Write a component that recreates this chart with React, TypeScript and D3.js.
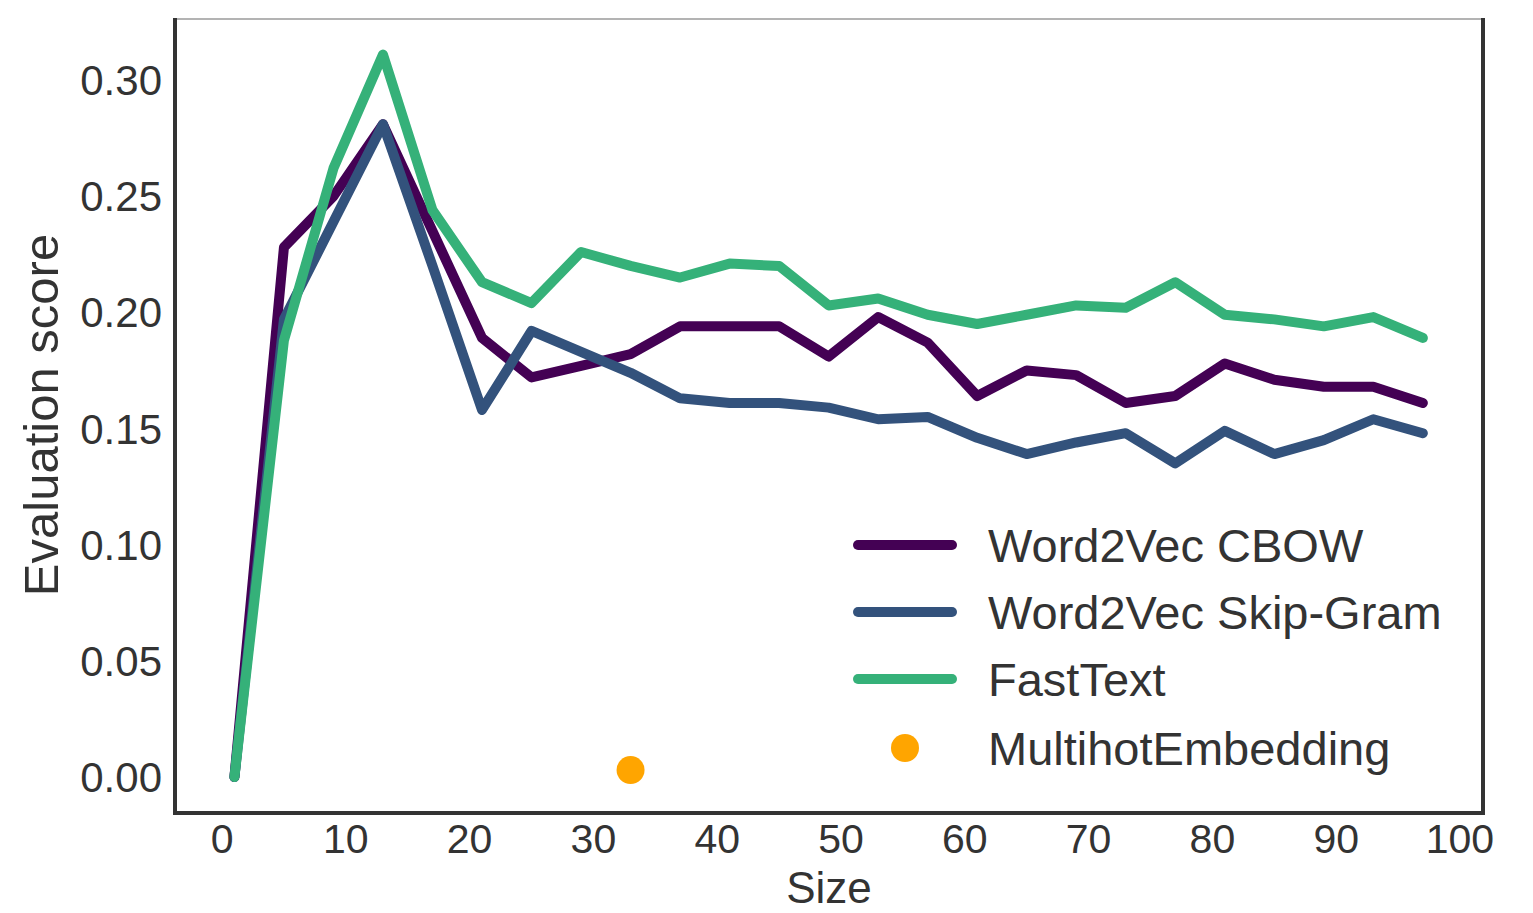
import React from "react";
import * as d3 from "d3";

const sizes = [1, 5, 9, 13, 17, 21, 25, 29, 33, 37, 41, 45, 49, 53, 57, 61, 65, 69, 73, 77, 81, 85, 89, 93, 97];
const cbow = [0.0, 0.228, 0.25, 0.281, 0.235, 0.189, 0.172, 0.177, 0.182, 0.194, 0.194, 0.194, 0.181, 0.198, 0.187, 0.164, 0.175, 0.173, 0.161, 0.164, 0.178, 0.171, 0.168, 0.168, 0.161];
const skipGram = [0.0, 0.197, 0.239, 0.281, 0.22, 0.158, 0.192, 0.183, 0.174, 0.163, 0.161, 0.161, 0.159, 0.154, 0.155, 0.146, 0.139, 0.144, 0.148, 0.135, 0.149, 0.139, 0.145, 0.154, 0.148];
const fastText = [0.0, 0.188, 0.262, 0.311, 0.244, 0.213, 0.204, 0.226, 0.22, 0.215, 0.221, 0.22, 0.203, 0.206, 0.199, 0.195, 0.199, 0.203, 0.202, 0.213, 0.199, 0.197, 0.194, 0.198, 0.189];
const multihotSize = [33];
const multihotScore = [0.003];

const seriesNames = ["Word2Vec CBOW", "Word2Vec Skip-Gram", "FastText"];
const seriesColors = ["#440154", "#33527c", "#35b179"];
const multihotName = "MultihotEmbedding";
const multihotColor = "#ffa500";

const xTicks = [0, 10, 20, 30, 40, 50, 60, 70, 80, 90, 100];
const yTicks = [0.0, 0.05, 0.1, 0.15, 0.2, 0.25, 0.3];

const FONT = "'Liberation Sans', Arial, Helvetica, sans-serif";

export default function App() {
  const left = 175, right = 1483, top = 19, bottom = 813;
  const x = d3.scaleLinear().domain([-3.8, 101.86]).range([left, right]);
  const y = d3.scaleLinear().domain([-0.0155, 0.3263]).range([bottom, top]);
  const line = d3
    .line<number>()
    .x((_, i) => x(sizes[i]))
    .y((d) => y(d));
  const series = [cbow, skipGram, fastText];

  const legX0 = 858, legX1 = 952, legText = 988;
  const legY = [545, 612, 679, 748];

  return (
    <svg width={1533} height={913} style={{ position: "absolute", left: 0, top: 0, background: "#fff" }} fontFamily={FONT}>
      <rect x={0} y={0} width={1533} height={913} fill="#fff" />
      {series.map((s, k) => (
        <path key={k} d={line(s) || ""} fill="none" stroke={seriesColors[k]} strokeWidth={10} strokeLinecap="round" strokeLinejoin="round" />
      ))}
      {multihotSize.map((s, i) => (
        <circle key={i} cx={x(s)} cy={y(multihotScore[i])} r={14} fill={multihotColor} />
      ))}
      {/* frame */}
      <line x1={left} y1={top} x2={right} y2={top} stroke="#9a9a9a" strokeWidth={1.5} />
      <line x1={left} y1={top - 1} x2={left} y2={bottom + 2} stroke="#333" strokeWidth={4} />
      <line x1={right} y1={top - 1} x2={right} y2={bottom + 2} stroke="#333" strokeWidth={4} />
      <line x1={left - 2} y1={bottom} x2={right + 2} y2={bottom} stroke="#333" strokeWidth={4} />
      {/* y ticks */}
      {yTicks.map((t) => (
        <text key={t} x={162} y={y(t) + 15} textAnchor="end" fontSize={42} fill="#333">
          {t.toFixed(2)}
        </text>
      ))}
      {/* x ticks */}
      {xTicks.map((t) => (
        <text key={t} x={x(t)} y={853} textAnchor="middle" fontSize={41} fill="#333">
          {t}
        </text>
      ))}
      <text x={(left + right) / 2} y={903} textAnchor="middle" fontSize={44} fill="#333">
        Size
      </text>
      <text transform={`translate(58,${415}) rotate(-90)`} textAnchor="middle" fontSize={49} fill="#333">
        Evaluation score
      </text>
      {/* legend */}
      {seriesNames.map((n, k) => (
        <g key={n}>
          <line x1={legX0} x2={legX1} y1={legY[k]} y2={legY[k]} stroke={seriesColors[k]} strokeWidth={10} strokeLinecap="round" />
          <text x={legText} y={legY[k] + 17} fontSize={47} fill="#333">
            {n}
          </text>
        </g>
      ))}
      <circle cx={(legX0 + legX1) / 2} cy={legY[3]} r={14} fill={multihotColor} />
      <text x={legText} y={legY[3] + 17} fontSize={47} fill="#333">
        {multihotName}
      </text>
    </svg>
  );
}
